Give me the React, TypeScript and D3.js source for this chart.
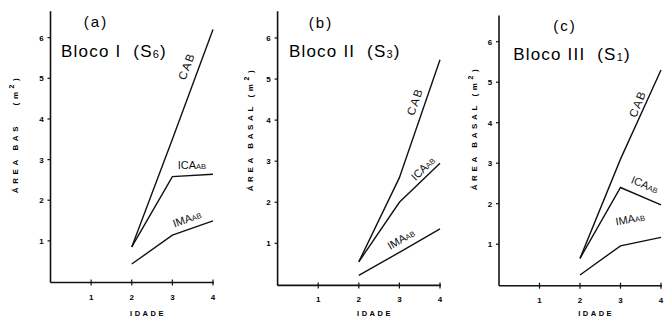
import { useEffect, useRef } from "react";
import * as d3 from "d3";

// Idade (anos) dos pontos medidos
const idade = [2, 3, 4];

// Bloco I (S6)
const cabI = [0.85, 3.5, 6.2];
const icaI = [0.85, 2.58, 2.64];
const imaI = [0.43, 1.14, 1.49];

// Bloco II (S3)
const cabII = [0.55, 2.6, 5.47];
const icaII = [0.55, 2.0, 2.95];
const imaII = [0.22, 0.78, 1.35];

// Bloco III (S1)
const cabIII = [0.65, 3.1, 5.3];
const icaIII = [0.65, 2.4, 1.97];
const imaIII = [0.24, 0.96, 1.17];

const xTicks = [1, 2, 3, 4];
const yTicks = [1, 2, 3, 4, 5, 6];

const FONT = "'Liberation Sans', Arial, sans-serif";

type Panel = {
  letter: string;
  roman: string;
  sub: string;
  yLabel: string[];
  series: { name: string; values: number[] }[];
  // layout in pixels
  px: [number, number];
  py: [number, number];
  yLabelX: number;
  yLabelY: number[];
  // label anchors in data units [x, y, rotate]
  lab: Record<string, [number, number, number]>;
  letterPos: [number, number];
  blocoPos: [number, number];
};

const panels: Panel[] = [
  {
    letter: "(a)",
    roman: "I",
    sub: "6",
    yLabel: ["ÁREA BAS", "(m"],
    series: [
      { name: "CAB", values: cabI },
      { name: "ICA", values: icaI },
      { name: "IMA", values: imaI },
    ],
    px: [50.5, 213],
    py: [281.5, 37.7],
    yLabelX: 18,
    yLabelY: [158, 90],
    lab: { CAB: [3.35, 5.3, -69], ICA: [3.48, 2.86, 0], IMA: [3.36, 1.54, -20] },
    letterPos: [1.12, 6.39],
    blocoPos: [0.26, 5.53],
  },
  {
    letter: "(b)",
    roman: "II",
    sub: "3",
    yLabel: ["ÁREA BASAL (m"],
    series: [
      { name: "CAB", values: cabII },
      { name: "ICA", values: icaII },
      { name: "IMA", values: imaII },
    ],
    px: [277.6, 440],
    py: [284.4, 38],
    yLabelX: 253,
    yLabelY: [129],
    lab: { CAB: [3.38, 4.45, -71], ICA: [3.58, 2.82, -44], IMA: [3.04, 1.1, -30] },
    letterPos: [1.07, 6.36],
    blocoPos: [0.28, 5.53],
  },
  {
    letter: "(c)",
    roman: "III",
    sub: "1",
    yLabel: ["ÁREA BASAL (m"],
    series: [
      { name: "CAB", values: cabIII },
      { name: "ICA", values: icaIII },
      { name: "IMA", values: imaIII },
    ],
    px: [499, 661],
    py: [284.7, 41.7],
    yLabelX: 477,
    yLabelY: [128],
    lab: { CAB: [3.42, 4.47, -68], ICA: [3.6, 2.47, 23], IMA: [3.24, 1.62, -10] },
    letterPos: [1.63, 6.39],
    blocoPos: [0.35, 5.55],
  },
];

export default function App() {
  const ref = useRef<SVGSVGElement>(null);

  useEffect(() => {
    const svg = d3.select(ref.current);
    svg.selectAll("*").remove();

    panels.forEach((p) => {
      const x = d3.scaleLinear().domain([0, 4]).range(p.px);
      const y = d3.scaleLinear().domain([0, 6]).range(p.py);
      const g = svg.append("g");

      //axes lines
      g.append("line")
        .attr("x1", x(0)).attr("x2", x(0))
        .attr("y1", y(6.65)).attr("y2", y(0) + 1)
        .attr("stroke", "#111").attr("stroke-width", 1.6);
      g.append("line")
        .attr("x1", x(0)).attr("x2", x(4) + 1)
        .attr("y1", y(0) + 1).attr("y2", y(0) + 1)
        .attr("stroke", "#111").attr("stroke-width", 1.6);

      //ticks
      g.selectAll(".yt")
        .data(yTicks)
        .enter()
        .append("line")
        .attr("x1", x(0) - 3).attr("x2", x(0))
        .attr("y1", (d) => y(d)).attr("y2", (d) => y(d))
        .attr("stroke", "#111").attr("stroke-width", 1.2);
      g.selectAll(".ytl")
        .data(yTicks)
        .enter()
        .append("text")
        .attr("x", x(0) - 9)
        .attr("y", (d) => y(d) + 3)
        .attr("text-anchor", "middle")
        .attr("font-family", FONT)
        .attr("font-weight", "bold")
        .attr("font-size", 8)
        .text((d) => d);

      g.selectAll(".xt")
        .data(xTicks)
        .enter()
        .append("line")
        .attr("x1", (d) => x(d)).attr("x2", (d) => x(d))
        .attr("y1", y(0) - 2).attr("y2", y(0) + 4)
        .attr("stroke", "#111").attr("stroke-width", 1.2);
      g.selectAll(".xtl")
        .data(xTicks)
        .enter()
        .append("text")
        .attr("x", (d) => x(d))
        .attr("y", y(0) + 18)
        .attr("text-anchor", "middle")
        .attr("font-family", FONT)
        .attr("font-weight", "bold")
        .attr("font-size", 8)
        .text((d) => d);

      //axis titles
      g.append("text")
        .attr("x", x(2.4))
        .attr("y", 316)
        .attr("text-anchor", "middle")
        .attr("font-family", FONT)
        .attr("font-weight", "bold")
        .attr("font-size", 7.5)
        .attr("letter-spacing", 2.5)
        .text("IDADE");
      p.yLabel.forEach((t, i) => {
        const yl = g
          .append("text")
          .attr("transform", `translate(${p.yLabelX},${p.yLabelY[i]}) rotate(-90)`)
          .attr("text-anchor", "middle")
          .attr("font-family", FONT)
          .attr("font-weight", "bold")
          .attr("font-size", 8)
          .attr("letter-spacing", 3.6)
          .style("white-space", "pre");
        yl.append("tspan").text(t);
        if (t.endsWith("(m")) {
          yl.append("tspan").attr("dy", -4).attr("font-size", 7).text("2");
          yl.append("tspan").attr("dy", 4).text(")");
        }
      });

      //lines
      const line = d3
        .line<number>()
        .x((_, i) => x(idade[i]))
        .y((d) => y(d));
      p.series.forEach((s) => {
        g.append("path")
          .attr("d", line(s.values))
          .attr("fill", "none")
          .attr("stroke", "#111")
          .attr("stroke-width", 1.4);
      });

      //series labels
      p.series.forEach((s) => {
        const [lx, ly, rot] = p.lab[s.name];
        const t = g
          .append("text")
          .attr("transform", `translate(${x(lx)},${y(ly)}) rotate(${rot})`)
          .attr("text-anchor", "middle")
          .attr("dy", "0.35em")
          .attr("font-family", FONT)
          .attr("fill", "#111");
        if (s.name === "CAB") {
          t.attr("font-size", 11.5).attr("letter-spacing", 1.5).text("CAB");
        } else {
          t.attr("font-size", 11).append("tspan").text(s.name);
          t.append("tspan").attr("font-size", 7.5).text("AB");
        }
      });

      //titles
      g.append("text")
        .attr("x", x(p.letterPos[0]))
        .attr("y", y(p.letterPos[1]) + 5)
        .attr("text-anchor", "middle")
        .attr("font-family", FONT)
        .attr("font-size", 15)
        .attr("letter-spacing", 2)
        .text(p.letter);
      const b = g
        .append("text")
        .attr("x", x(p.blocoPos[0]))
        .attr("y", y(p.blocoPos[1]))
        .attr("font-family", FONT)
        .attr("font-size", 17)
        .attr("letter-spacing", 1.2)
        .style("white-space", "pre");
      b.append("tspan").text(`Bloco ${p.roman}  (S`);
      b.append("tspan").attr("font-size", 11).attr("dy", 1).text(p.sub);
      b.append("tspan").attr("dy", -1).text(")");
    });
  }, []);

  return (
    <svg
      ref={ref}
      width={666}
      height={322}
      style={{ position: "absolute", left: 0, top: 0, background: "#fff" }}
    />
  );
}
